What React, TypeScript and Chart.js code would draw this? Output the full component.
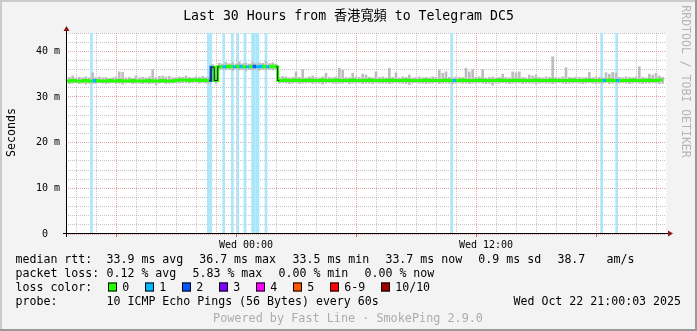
import React, { useEffect, useRef } from 'react';
import { Chart, registerables } from 'chart.js';

Chart.register(...registerables);

// ---------- data ----------
const TITLE = 'Last 30 Hours from 香港寬頻 to Telegram DC5';
const START_HOUR = -9; // hours relative to Wed 00:00
const END_HOUR = 21;
const SAMPLE_MINUTES = 10;
const Y_MAX = 44;

const xTickHours = [0, 12];
const xTickLabels = ['Wed 00:00', 'Wed 12:00'];
const yTickValues = [0, 10, 20, 30, 40];
const yTickLabels = ['0  ', '10 m', '20 m', '30 m', '40 m'];

// median rtt (ms), one value every 10 minutes
const medianMs = [
  33.5, 33.5, 33.6, 33.5, 33.5, 33.5, 33.6, 33.5, 33.5, 33.6, 33.5, 33.5,
  33.5, 33.6, 33.5, 33.5, 33.6, 33.5, 33.5, 33.5, 33.6, 33.5, 33.5, 33.5,
  33.5, 33.6, 33.5, 33.5, 33.5, 33.6, 33.5, 33.5, 33.5, 33.6, 33.7, 33.7,
  33.7, 33.6, 33.7, 33.7, 33.6, 33.7, 33.6, 33.6, 36.5, 33.6, 36.6, 36.6,
  36.6, 36.7, 36.6, 36.6, 36.7, 36.6, 36.6, 36.6, 36.7, 36.6, 36.6, 36.7,
  36.6, 36.6, 36.7, 36.6, 33.6, 33.6, 33.7, 33.6, 33.6, 33.7, 33.6, 33.6,
  33.6, 33.7, 33.6, 33.6, 33.6, 33.7, 33.6, 33.6, 33.6, 33.7, 33.6, 33.6,
  33.6, 33.6, 33.7, 33.6, 33.6, 33.6, 33.6, 33.7, 33.6, 33.6, 33.6, 33.6,
  33.6, 33.7, 33.6, 33.6, 33.6, 33.6, 33.7, 33.6, 33.6, 33.6, 33.6, 33.6,
  33.7, 33.6, 33.6, 33.6, 33.6, 33.6, 33.7, 33.6, 33.6, 33.6, 33.6, 33.7,
  33.6, 33.6, 33.6, 33.6, 33.7, 33.6, 33.6, 33.6, 33.6, 33.6, 33.7, 33.6,
  33.6, 33.6, 33.6, 33.7, 33.6, 33.6, 33.6, 33.6, 33.6, 33.7, 33.6, 33.6,
  33.6, 33.6, 33.7, 33.6, 33.6, 33.6, 33.6, 33.6, 33.7, 33.6, 33.6, 33.6,
  33.6, 33.7, 33.6, 33.6, 33.6, 33.6, 33.6, 33.7, 33.6, 33.6, 33.6, 33.6,
  33.6, 33.6, 33.7, 33.6, 33.6, 33.6, 33.6, 33.7, 33.6, 33.6, 33.7, 33.7,
];

// smoke: slowest ping of each sample (ms)
const smokeHighMs = [
  34.2, 34.3, 34.6, 34.1, 34.3, 34.2, 34.4, 34.2, 35.3, 34.3, 34.4, 34.2,
  34.3, 34.1, 34.2, 34.4, 35.5, 35.4, 34.2, 34.3, 34.1, 34.6, 34.2, 34.3,
  34.2, 34.4, 36.0, 34.2, 34.5, 34.6, 34.4, 34.5, 34.2, 34.3, 34.4, 34.3,
  34.6, 34.3, 34.2, 34.4, 34.3, 34.5, 34.3, 34.4, 37.1, 34.8, 37.4, 37.2,
  37.6, 37.3, 37.5, 37.2, 37.7, 37.3, 37.4, 37.2, 37.6, 37.3, 37.5, 37.4,
  37.8, 37.3, 37.5, 37.2, 34.3, 34.5, 34.4, 34.2, 34.3, 35.5, 34.3, 36.0,
  34.2, 34.4, 34.6, 34.3, 34.2, 34.4, 35.2, 34.3, 34.2, 34.4, 36.3, 35.9,
  34.3, 34.2, 35.2, 34.4, 34.3, 35.0, 34.8, 34.3, 34.2, 35.5, 34.3, 34.4,
  34.2, 36.3, 34.3, 35.3, 34.2, 34.4, 34.3, 34.8, 34.2, 34.3, 34.4, 34.2,
  34.3, 34.2, 34.4, 34.3, 35.9, 35.2, 35.5, 34.3, 34.2, 34.4, 34.3, 34.2,
  36.3, 35.5, 36.0, 34.3, 34.4, 36.0, 34.2, 34.3, 34.4, 34.2, 34.3, 35.0,
  34.3, 34.2, 35.5, 35.3, 35.5, 34.3, 34.2, 34.8, 34.6, 34.8, 34.3, 34.2,
  34.4, 34.3, 38.8, 34.3, 34.2, 34.4, 36.4, 34.3, 34.2, 34.4, 34.3, 34.2,
  34.3, 35.4, 34.2, 34.4, 34.3, 34.2, 35.3, 35.0, 35.4, 35.2, 34.3, 34.2,
  34.4, 34.3, 34.2, 34.4, 36.6, 34.3, 34.2, 35.0, 34.8, 35.2, 34.6, 34.3,
];

// smoke: fastest ping of each sample (ms)
const smokeLowMs = [
  33.0, 32.9, 33.0, 33.1, 32.9, 33.0, 32.8, 33.0, 33.0, 32.9, 33.1, 33.0,
  32.9, 33.0, 33.1, 32.9, 33.0, 32.8, 33.0, 33.1, 32.9, 33.0, 33.0, 32.9,
  33.0, 32.9, 33.0, 32.7, 33.0, 33.1, 32.9, 33.0, 33.0, 33.1, 33.0, 33.1,
  33.1, 33.0, 33.1, 33.2, 33.0, 33.1, 33.0, 33.0, 35.8, 33.0, 35.9, 36.0,
  35.9, 36.0, 35.8, 36.1, 35.9, 36.0, 35.7, 36.0, 35.9, 36.0, 35.8, 36.0,
  35.9, 36.0, 35.9, 36.0, 33.0, 33.1, 33.0, 32.9, 33.0, 33.1, 32.9, 33.0,
  33.0, 33.1, 32.9, 33.0, 33.0, 32.8, 33.0, 33.1, 33.0, 32.9, 33.0, 33.0,
  33.1, 32.9, 33.0, 33.0, 33.1, 32.9, 33.0, 33.0, 32.9, 33.1, 33.0, 33.0,
  33.0, 32.9, 33.0, 33.1, 33.0, 33.0, 32.9, 32.7, 33.0, 33.1, 33.0, 33.0,
  32.9, 33.0, 33.0, 33.1, 32.9, 33.0, 33.0, 33.0, 32.9, 33.0, 33.1, 33.0,
  33.0, 32.9, 33.0, 33.0, 33.1, 33.0, 32.9, 33.0, 32.6, 33.0, 33.0, 33.1,
  33.0, 32.9, 33.0, 33.0, 33.1, 32.9, 33.0, 33.0, 33.0, 32.8, 33.0, 33.1,
  33.0, 33.0, 32.9, 33.0, 33.1, 33.0, 32.9, 33.0, 33.0, 33.1, 33.0, 32.9,
  33.0, 33.1, 33.0, 32.9, 33.0, 33.0, 33.1, 32.9, 33.0, 33.0, 33.0, 33.1,
  33.0, 32.9, 33.0, 33.1, 33.0, 32.9, 33.0, 33.0, 33.1, 33.0, 32.9, 33.0,
];

// packet-loss events (hours relative to Wed 00:00) and lost pings out of 10
const lossHours = [-7.73, -1.88, -1.77, -1.11, -0.68, -0.41, -0.05, 0.33, 0.41, 0.54, 0.6, 1.0, 10.28, 17.78, 18.53];
const lossPings = [1, 1, 1, 1, 1, 1, 1, 1, 1, 1, 1, 1, 1, 1, 1];

const lossLegendLabels = ['0', '1', '2', '3', '4', '5', '6-9', '10/10'];
const lossLegendColors = ['#26ff00', '#00b8ff', '#0059ff', '#7e00ff', '#ff00ff', '#ff5500', '#ff0000', '#a10000'];
const lossBgColors = ['#ffffff', '#abe6fb', '#a6c4ff', '#d2a6ff', '#ffa6ff', '#ffc4a6', '#ffa6a6', '#dea6a6'];

const rttLabel = 'median rtt:';
const rttStats = ['33.9 ms avg', '36.7 ms max', '33.5 ms min', '33.7 ms now', '0.9 ms sd', '38.7', 'am/s'];
const lossLabel = 'packet loss:';
const lossStats = ['0.12 % avg', '5.83 % max', '0.00 % min', '0.00 % now'];
const colorLabel = 'loss color:';
const probeLabel = 'probe:';
const probeText = '10 ICMP Echo Pings (56 Bytes) every 60s';
const probeDate = 'Wed Oct 22 21:00:03 2025';
const footerText = 'Powered by Fast Line · SmokePing 2.9.0';
const watermark = 'RRDTOOL / TOBI OETIKER';
const yAxisTitle = 'Seconds';

// ---------- styling ----------
const MONO = '"DejaVu Sans Mono", "Noto Sans CJK TC", monospace';
const GRID_MINOR = 'rgba(150,150,150,0.55)';
const GRID_MAJOR = 'rgba(222,90,90,0.55)';
const ARROW = '#8b1414';

function lossIndex(n: number) {
  if (n <= 0) return 0;
  if (n <= 5) return n;
  if (n <= 9) return 6;
  return 7;
}

const framePlugin = {
  id: 'smokeFrame',
  beforeDraw(chart: any) {
    const { ctx, width, height, chartArea } = chart;
    ctx.save();
    ctx.fillStyle = '#f3f3f3';
    ctx.fillRect(0, 0, width, height);
    ctx.fillStyle = '#ffffff';
    ctx.fillRect(chartArea.left, chartArea.top, chartArea.right - chartArea.left, chartArea.bottom - chartArea.top);
    // 3D frame
    ctx.fillStyle = '#cbcbcb';
    ctx.fillRect(0, 0, width, 2);
    ctx.fillRect(0, 0, 2, height);
    ctx.fillStyle = '#999999';
    ctx.fillRect(0, height - 2, width, 2);
    ctx.fillRect(width - 2, 0, 2, height);
    ctx.restore();
  },
  afterDatasetsDraw(chart: any) {
    const { ctx, chartArea } = chart;
    const l = chartArea.left;
    const b = chartArea.bottom;
    ctx.save();
    ctx.fillStyle = '#000';
    ctx.fillRect(l - 3, b - 1, chartArea.right - l + 6, 1); // x axis
    ctx.fillRect(l, chartArea.top - 3, 1, b - chartArea.top + 6); // y axis
    ctx.fillStyle = ARROW;
    ctx.beginPath();
    ctx.moveTo(l - 2.5, chartArea.top - 2);
    ctx.lineTo(l + 3.5, chartArea.top - 2);
    ctx.lineTo(l + 0.5, chartArea.top - 7);
    ctx.closePath();
    ctx.fill();
    ctx.beginPath();
    ctx.moveTo(chartArea.right + 2, b - 3.5);
    ctx.lineTo(chartArea.right + 2, b + 2.5);
    ctx.lineTo(chartArea.right + 7, b - 0.5);
    ctx.closePath();
    ctx.fill();
    ctx.restore();
  },
  afterDraw(chart: any) {
    const { ctx, width } = chart;
    ctx.save();
    ctx.textBaseline = 'alphabetic';
    // title
    ctx.fillStyle = '#000';
    ctx.font = `13.2px ${MONO}`;
    ctx.textAlign = 'center';
    ctx.fillText(TITLE, width / 2, 19.5);

    // y axis title
    ctx.save();
    ctx.font = `11.6px ${MONO}`;
    ctx.translate(14.5, 132.5);
    ctx.rotate(-Math.PI / 2);
    ctx.textAlign = 'center';
    ctx.fillText(yAxisTitle, 0, 0);
    ctx.restore();

    // watermark
    ctx.save();
    ctx.font = `11.5px ${MONO}`;
    ctx.fillStyle = '#b4b4b4';
    ctx.translate(682, 81.5);
    ctx.rotate(Math.PI / 2);
    ctx.textAlign = 'center';
    ctx.fillText(watermark, 0, 0);
    ctx.restore();

    // legend
    ctx.font = `11.6px ${MONO}`;
    ctx.textAlign = 'left';
    ctx.fillStyle = '#000';
    const rowY = [263, 277, 291, 305];
    ctx.fillText(rttLabel, 15.5, rowY[0]);
    const rttX = [106.5, 199.2, 292.5, 385.4, 478.3, 557.4, 606.5];
    rttStats.forEach((s, i) => ctx.fillText(s, rttX[i], rowY[0]));
    ctx.fillText(lossLabel, 15.5, rowY[1]);
    const lossX = [106.5, 192.5, 278.5, 364.5];
    lossStats.forEach((s, i) => ctx.fillText(s, lossX[i], rowY[1]));
    ctx.fillText(colorLabel, 15.5, rowY[2]);
    const sqX = [108, 145, 182, 219, 256, 293, 330, 381];
    lossLegendLabels.forEach((lab, i) => {
      ctx.fillStyle = lossLegendColors[i];
      ctx.fillRect(sqX[i], 282.5, 9, 9);
      ctx.strokeStyle = '#000';
      ctx.lineWidth = 1;
      ctx.strokeRect(sqX[i] + 0.5, 283, 8, 8);
      ctx.fillStyle = '#000';
      ctx.fillText(lab, sqX[i] + 14.2, rowY[2]);
    });
    ctx.fillText(probeLabel, 15.5, rowY[3]);
    ctx.fillText(probeText, 106.5, rowY[3]);
    ctx.textAlign = 'right';
    ctx.fillText(probeDate, 681, rowY[3]);

    // footer
    ctx.textAlign = 'center';
    ctx.fillStyle = '#acacac';
    ctx.font = `11.8px ${MONO}`;
    ctx.fillText(footerText, 348, 322);
    ctx.restore();
  },
};

export default function App() {
  const ref = useRef<HTMLCanvasElement>(null);

  useEffect(() => {
    const canvas = ref.current;
    if (!canvas) return;
    const sampleHours = medianMs.map((_, i) => START_HOUR + (i * SAMPLE_MINUTES) / 60);
    const half = SAMPLE_MINUTES / 120;
    const sampleLoss = sampleHours.map((h) => {
      let s = 0;
      lossHours.forEach((lh, k) => {
        if (lh >= h - half && lh < h + half) s += lossPings[k];
      });
      return s;
    });
    const medianPts = sampleHours.map((h, i) => ({ x: h, y: medianMs[i] }));
    const isMajorX = (v: number) => Math.abs(v % 6) < 1e-6;

    const chart = new Chart(canvas, {
      type: 'line',
      data: {
        datasets: [
          {
            type: 'bar',
            label: 'loss',
            data: lossHours.map((h) => ({ x: h, y: [0, Y_MAX] })) as any,
            backgroundColor: lossPings.map((n) => lossBgColors[lossIndex(n)]),
            barThickness: 2,
            grouped: false,
            borderWidth: 0,
            order: 4,
          } as any,
          {
            type: 'bar',
            label: 'smoke',
            data: sampleHours.map((h, i) => ({ x: h, y: [smokeLowMs[i], smokeHighMs[i]] })) as any,
            backgroundColor: '#bdbdbd',
            barThickness: 2,
            grouped: false,
            borderWidth: 0,
            order: 3,
          } as any,
          {
            type: 'line',
            label: 'median',
            data: medianPts,
            borderColor: lossLegendColors[0],
            borderWidth: 3,
            stepped: 'middle',
            pointRadius: 0,
            borderCapStyle: 'butt',
            segment: {
              borderColor: (c: any) => lossLegendColors[lossIndex(sampleLoss[c.p0DataIndex])],
            },
            order: 2,
          } as any,
          {
            type: 'line',
            label: 'median step',
            data: medianPts,
            borderColor: 'rgba(0,0,0,0)',
            borderWidth: 1,
            stepped: 'middle',
            pointRadius: 0,
            segment: {
              borderColor: (c: any) =>
                Math.abs(c.p1.parsed.y - c.p0.parsed.y) > 1 ? '#202020' : 'rgba(0,0,0,0)',
            },
            order: 1,
          } as any,
        ],
      },
      options: {
        responsive: false,
        animation: false,
        events: [],
        layout: { padding: { left: 0, right: 31, top: 33, bottom: 0 } },
        plugins: {
          legend: { display: false },
          tooltip: { enabled: false },
          title: { display: false },
        },
        scales: {
          x: {
            type: 'linear',
            min: START_HOUR,
            max: END_HOUR,
            offset: false,
            afterFit: (s: any) => {
              s.height = 97;
            },
            ticks: {
              stepSize: 1,
              autoSkip: false,
              maxRotation: 0,
              minRotation: 0,
              padding: 2,
              color: '#000',
              font: { family: MONO, size: 10 },
              callback: (v: any) => {
                const k = xTickHours.indexOf(Number(v));
                return k >= 0 ? xTickLabels[k] : '';
              },
            },
            grid: {
              color: (c: any) => (c.tick && isMajorX(c.tick.value) ? GRID_MAJOR : GRID_MINOR),
              lineWidth: 1,
              tickLength: 3,
              tickColor: (c: any) => (c.tick && isMajorX(c.tick.value) ? '#d06060' : 'rgba(0,0,0,0)'),
            },
            border: { display: false, dash: [1, 1] },
          },
          y: {
            min: 0,
            max: Y_MAX,
            afterFit: (s: any) => {
              s.width = 66;
            },
            ticks: {
              stepSize: 2,
              autoSkip: false,
              padding: 3,
              color: '#000',
              font: { family: MONO, size: 10 },
              callback: (v: any) => {
                const k = yTickValues.indexOf(Number(v));
                return k >= 0 ? yTickLabels[k] : '';
              },
            },
            grid: {
              color: (c: any) => (c.tick && c.tick.value % 10 === 0 ? GRID_MAJOR : GRID_MINOR),
              lineWidth: 1,
              tickLength: 3,
              tickColor: 'rgba(0,0,0,0)',
            },
            border: { display: false, dash: [1, 1] },
          },
        },
      } as any,
      plugins: [framePlugin],
    });
    return () => chart.destroy();
  }, []);

  return (
    <div style={{ position: 'fixed', left: 0, top: 0, width: 697, height: 331 }}>
      <canvas ref={ref} width={697} height={331} style={{ display: 'block', width: 697, height: 331 }} />
    </div>
  );
}
